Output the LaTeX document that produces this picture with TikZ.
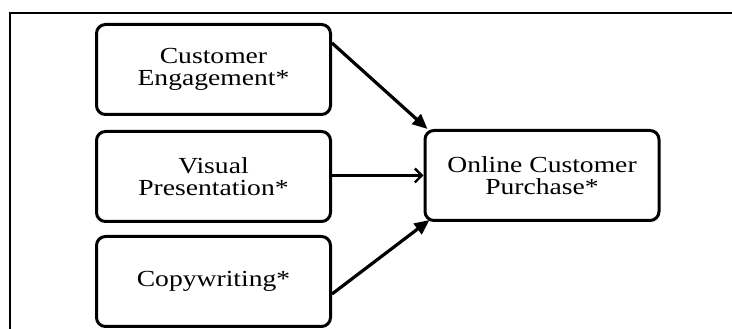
\documentclass[tikz,border=0pt]{standalone}
\usepackage{fontspec}
\setmainfont{Liberation Serif}[FakeStretch=1.2]
\usetikzlibrary{arrows.meta,calc}
\begin{document}
\begin{tikzpicture}[x=1pt,y=1pt,
  box/.style={draw,line width=3pt,rounded corners=9pt,minimum width=234pt,minimum height=90pt,inner sep=0pt,align=center,font=\fontsize{23}{22}\selectfont},
  filledarrow/.style={line width=3.2pt,-{Triangle[length=15pt,width=13pt]}},
  openarrow/.style={line width=2.4pt,-{Straight Barb[length=7pt,width=14pt]}}]
\useasboundingbox (0,0) rectangle (732,329);
\fill[white] (0,0) rectangle (732,329);
\draw[line width=2.5pt] (10,-2) -- (10,316) -- (734,316);
\node[box] (ce) at (213.5,259.5) {Customer\\Engagement*};
\node[box] (vp) at (213.5,152.5) {Visual\\Presentation*};
\node[box] (cw) at (213.5,47.5) {Copywriting*};
\node[box] (ocp) at (542,153.5) {Online Customer\\Purchase*};
\draw[filledarrow] ($(ce.north east)+(0,-20)$) -- ($(ocp.north west)+(4,0)$);
\draw[openarrow] (vp.east |- ocp.west) -- (ocp.west);
\draw[filledarrow] ($(cw.east)+(0,-12.5)$) -- ($(ocp.south west)+(6,2)$);
\end{tikzpicture}
\end{document}
